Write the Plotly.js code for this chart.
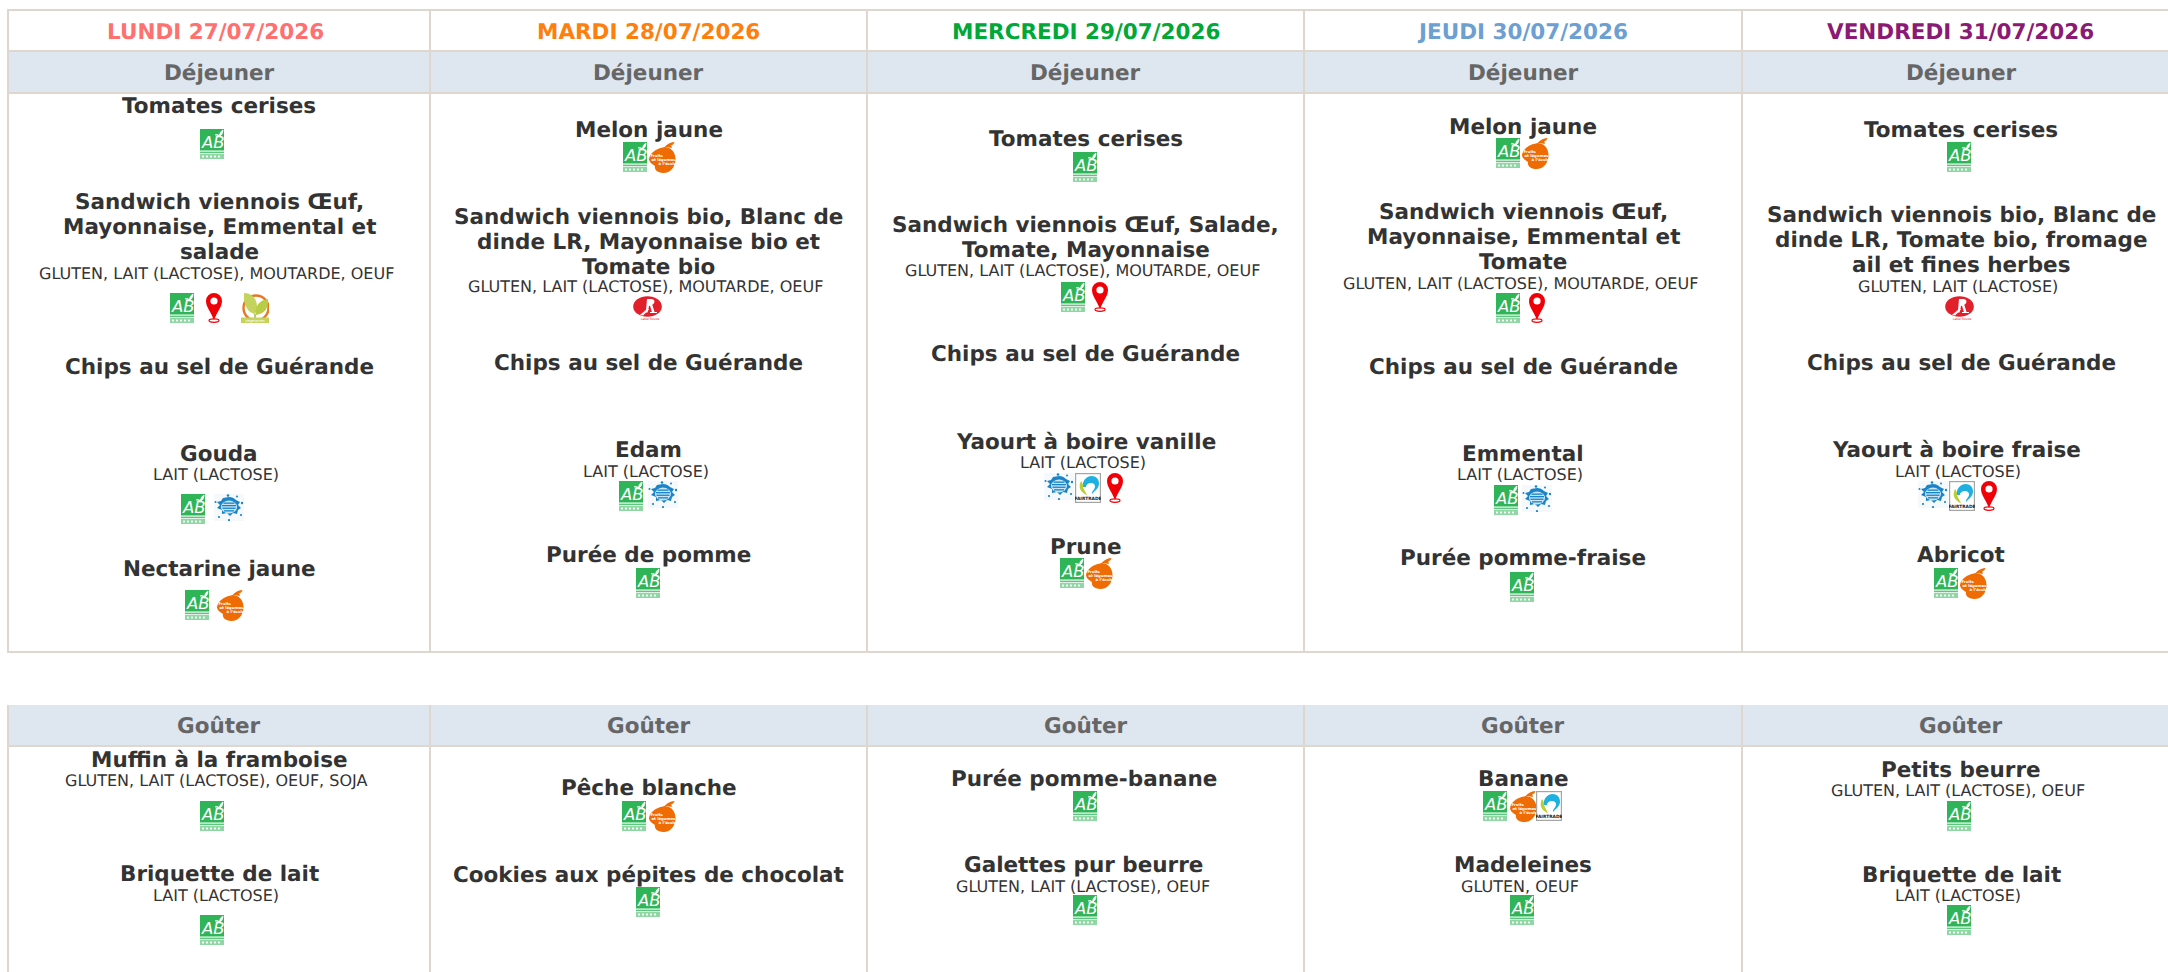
<!DOCTYPE html>
<html><head><meta charset="utf-8">
<script src="https://cdn.plot.ly/plotly-3.0.1.min.js"></script>
<style>html,body{margin:0;padding:0;background:#fff;overflow:hidden}#c{width:2168px;height:972px}
svg text{text-rendering:geometricPrecision}</style>
</head><body><div id="c"></div>
<script>
// ---- content ----
const days = ['LUNDI 27/07/2026','MARDI 28/07/2026','MERCREDI 29/07/2026','JEUDI 30/07/2026','VENDREDI 31/07/2026'];
const lunchTitle = 'Déjeuner';
const snackTitle = 'Goûter';
const chips = 'Chips au sel de Guérande';
const ALL_A = 'GLUTEN, LAIT (LACTOSE), MOUTARDE, OEUF';
const ALL_B = 'LAIT (LACTOSE)';

const lunchDishes = [
  [['Tomates cerises'],['Sandwich viennois Œuf,','Mayonnaise, Emmental et','salade'],[chips],['Gouda'],['Nectarine jaune']],
  [['Melon jaune'],['Sandwich viennois bio, Blanc de','dinde LR, Mayonnaise bio et','Tomate bio'],[chips],['Edam'],['Purée de pomme']],
  [['Tomates cerises'],['Sandwich viennois Œuf, Salade,','Tomate, Mayonnaise'],[chips],['Yaourt à boire vanille'],['Prune']],
  [['Melon jaune'],['Sandwich viennois Œuf,','Mayonnaise, Emmental et','Tomate'],[chips],['Emmental'],['Purée pomme-fraise']],
  [['Tomates cerises'],['Sandwich viennois bio, Blanc de','dinde LR, Tomate bio, fromage','ail et fines herbes'],[chips],['Yaourt à boire fraise'],['Abricot']]
];
const lunchAllergens = [
  ['',ALL_A,'',ALL_B,''],
  ['',ALL_A,'',ALL_B,''],
  ['',ALL_A,'',ALL_B,''],
  ['',ALL_A,'',ALL_B,''],
  ['','GLUTEN, LAIT (LACTOSE)','',ALL_B,'']
];
const lunchBadges = [
  [['ab'],['ab','pin','veg'],[],['ab','eau'],['ab','fruit']],
  [['ab','fruit'],['lr'],[],['ab','eau'],['ab']],
  [['ab'],['ab','pin'],[],['eau','ft','pin'],['ab','fruit']],
  [['ab','fruit'],['ab','pin'],[],['ab','eau'],['ab']],
  [['ab'],['lr'],[],['eau','ft','pin'],['ab','fruit']]
];
const snackDishes = [
  [['Muffin à la framboise'],['Briquette de lait']],
  [['Pêche blanche'],['Cookies aux pépites de chocolat']],
  [['Purée pomme-banane'],['Galettes pur beurre']],
  [['Banane'],['Madeleines']],
  [['Petits beurre'],['Briquette de lait']]
];
const snackAllergens = [
  ['GLUTEN, LAIT (LACTOSE), OEUF, SOJA',ALL_B],
  ['',''],
  ['','GLUTEN, LAIT (LACTOSE), OEUF'],
  ['','GLUTEN, OEUF'],
  ['GLUTEN, LAIT (LACTOSE), OEUF',ALL_B]
];
const snackBadges = [
  [['ab'],['ab']],
  [['ab','fruit'],['ab']],
  [['ab'],['ab']],
  [['ab','fruit','ft'],['ab']],
  [['ab'],['ab']]
];

// ---- placement (pixels of the 2168x972 frame) ----
const colEdges = [8,430,867,1304,1742,2180];
const textCx = [219,648.5,1085.5,1523,1961];
const dayCx = [215.5,648.5,1085.5,1522,1960];
const dishShift = {'Yaourt à boire fraise':-4.5,'Purée pomme-banane':-2,'Galettes pur beurre':-2};
const dayColors = ['#ff7070','#ff7f0e','#00a838','#6c9fd2','#8a1a74'];
const lunchNameY = [
  [106,202,367,454,569],[130,217,363,450,555],[139,225,354,442,547],[127,212,367,454,558],[130,215,363,450,555]];
const lunchAllY = [
  [0,273,0,474,0],[0,286,0,471,0],[0,270,0,462,0],[0,283,0,474,0],[0,286,0,471,0]];
const lunchIconTop = [
  [129,293,0,494,590],[142,296,0,481,568],[152,282,0,473,558],[138,293,0,485,572],[142,296,0,481,568]];
const lunchIconX = [
  [[200],[170,206,241],[],[181,214],[185,217]],
  [[623,649],[633],[],[619,648],[636]],
  [[1073],[1061,1092],[],[1044,1075,1107],[1060,1086]],
  [[1496,1522],[1496,1529],[],[1494,1522],[1510]],
  [[1947],[1945],[],[1918,1949,1981],[1934,1960]]
];
const snackNameY = [[760,874],[788,875],[779,865],[779,865],[770,875]];
const snackAllY = [[780,895],[0,0],[0,886],[0,886],[790,895]];
const snackIconTop = [[801,915],[801,887],[791,895],[791,895],[801,905]];
const snackIconX = [[[200],[200]],[[622,649],[636]],[[1073],[1073]],[[1483,1510,1536],[1510]],[[1947],[1947]]];

const FONT = 'DejaVu Sans, sans-serif';
const GRID = '#dfd6cd', BAND = '#dee6f0', INK = '#333333', MUTED = '#666666';
const ICON_SIZE = {ab:[24,30],pin:[16,30],veg:[28,30],eau:[30,27],fruit:[27,31],ft:[26,30],lr:[29,24]};
const NAME_SIZE = 21.5;

// ---- badge artwork ----
const SVG = {
 ab:`<svg xmlns="http://www.w3.org/2000/svg" viewBox="0 0 24 30"><rect width="24" height="30" fill="#fff"/><rect width="24" height="21.5" fill="#2fb457"/><rect y="22.6" width="24" height="1.6" fill="#5fc47f"/><rect y="25" width="24" height="5" fill="#8fd8a4"/><g fill="#fff"><rect x="2" y="26.6" width="2" height="1.8"/><rect x="6" y="26.6" width="2" height="1.8"/><rect x="10" y="26.6" width="2" height="1.8"/><rect x="14" y="26.6" width="2" height="1.8"/><rect x="18" y="26.6" width="2" height="1.8"/></g><text x="2" y="18.5" font-family="DejaVu Sans" font-size="16.5" font-style="italic" fill="#fff">AB</text><path d="M15 6c2-1 4 0 5 1.4M19.5 7.5c0-3 1-5 3.5-6.5-.2 3-1 5-3.5 6.5z" fill="#fff" stroke="#fff" stroke-width=".8"/></svg>`,
 pin:`<svg xmlns="http://www.w3.org/2000/svg" viewBox="0 0 16 30"><path d="M8 0a8 8 0 0 1 8 8c0 6-5 11-8 19C5 19 0 14 0 8a8 8 0 0 1 8-8z" fill="#f00007"/><circle cx="8" cy="8" r="3.6" fill="#fff"/><ellipse cx="8" cy="27.6" rx="5" ry="1.7" fill="none" stroke="#f00007" stroke-width="1.2"/></svg>`,
 veg:`<svg xmlns="http://www.w3.org/2000/svg" viewBox="0 0 28 30"><circle cx="15" cy="15" r="12.5" fill="#fff" stroke="#e87722" stroke-width="2.4"/><path d="M3 0c8 0 13 6 13 14 0 3-1 5-2 7C6 20 2 10 3 0z" fill="#c3d35c"/><path d="M27 6c1 8-3 15-12 16-2-8 3-15 12-16z" fill="#b9cc47"/><path d="M14 21v4" stroke="#8aa32a" stroke-width="1.2"/><rect y="24.5" x="0" width="28" height="5.5" fill="#c5d35a"/><text x="14" y="28.8" text-anchor="middle" font-size="3.6" fill="#fff" font-family="DejaVu Sans">Végétarien</text></svg>`,
 eau:`<svg xmlns="http://www.w3.org/2000/svg" viewBox="0 0 30 27"><rect width="30" height="27" fill="#f5f9fc"/><g fill="#1a84c6"><path d="M15 3c3 0 5 1 7 3l4 2-2 3 3 3-3 2-1 4-4-1-3 3-3-3-5 1v-4l-5-2 3-3-3-3 4-1 2-3z"/><circle cx="14" cy="1.5" r="1.3"/><circle cx="23" cy="2.5" r="1"/><circle cx="28" cy="9" r="1.2"/><circle cx="1.5" cy="8" r="1"/><circle cx="27" cy="21" r="1.1"/><circle cx="5" cy="23" r="1.1"/><circle cx="15" cy="26" r="1.1"/></g><ellipse cx="15" cy="13" rx="8" ry="6.5" fill="#c9e4f5"/><g fill="#1a84c6"><rect x="9.5" y="8.5" width="11" height="1.3"/><rect x="8" y="11" width="14" height="1.3"/><rect x="8.5" y="13.6" width="13" height="1.3"/><rect x="10" y="16.2" width="10" height="1.3"/></g></svg>`,
 fruit:`<svg xmlns="http://www.w3.org/2000/svg" viewBox="0 0 27 31"><path d="M14 5.5c7-1 12.5 4 12.5 11.5 0 8-5 14-12 14C8 31 5 27 6 24 3 22 0 20 0 17 1 11 7 6.5 14 5.5z" fill="#ef6c05"/><path d="M14 7c2-3 6-7 11.5-7-.5 2-1.5 3-3.5 3.5 1 1 1 2 .5 2.5-3-1-6-1-8.500 1z" fill="#ef6c05"/><g font-family="DejaVu Sans" font-weight="bold" font-size="3.8" fill="#fff"><text x="1.5" y="15">Fruits</text><text x="2.5" y="19">et légumes</text><text x="9.5" y="23">à l’école</text></g></svg>`,
 ft:`<svg xmlns="http://www.w3.org/2000/svg" viewBox="0 0 26 30"><rect x=".6" y=".6" width="24.8" height="28.8" fill="#fff" stroke="#a5a5a5" stroke-width="1.2"/><path d="M8 14C7 7 12 3 16.5 3c4.5 0 7.5 3 7.5 7.500 0 5-4 7-7 10.500-.5-3 3-4.500 3-7.500 0-2-1.500-3.500-3.500-3.500-3 0-5.500 1.500-5.500 4z" fill="#1eb0e0"/><path d="M6 8c-3 6-1 11 6 14.500C11 19 8 16 8 13c0-2-1-4-2-5z" fill="#bccf2e"/><text x="13" y="27.4" text-anchor="middle" font-size="4.4" font-weight="bold" fill="#222" font-family="DejaVu Sans">FAIRTRADE</text></svg>`,
 lr:`<svg xmlns="http://www.w3.org/2000/svg" viewBox="0 0 29 24"><ellipse cx="14.5" cy="10.5" rx="14.3" ry="10.3" fill="#e2202c"/><path d="M14 3h4.500c3.500 0 4 4 .8 5.800L21.500 16l-2.300.8-2.200-7-1 .3-1.500 6.500H12.800z" fill="#fff"/><path d="M7 19 15 12l.8 1.800L10 19.500z" fill="#fff"/><path d="M17 16.500h7" stroke="#fff" stroke-width="1"/><text x="17" y="23.5" text-anchor="middle" font-size="3" fill="#e2202c" font-family="DejaVu Sans">Label Rouge</text></svg>`
};
const uri = k => 'data:image/svg+xml;charset=utf-8,' + encodeURIComponent(SVG[k]);

// ---- assembly ----
const shapes = [], annotations = [], images = [];
const rect = (x0,y0,x1,y1,fill) => shapes.push({type:'rect',xref:'x',yref:'y',x0,y0,x1,y1,fillcolor:fill,line:{width:0},layer:'below'});
const line = (x0,y0,x1,y1) => shapes.push({type:'line',xref:'x',yref:'y',x0,y0,x1,y1,line:{color:GRID,width:2},layer:'below'});
const label = (text,x,y,size,color,bold) => annotations.push({
  text: bold ? '<b>'+text+'</b>' : text, xref:'x',yref:'y',x,y,xanchor:'center',yanchor:'middle',showarrow:false,
  font:{family:FONT,size,color}, borderpad:0, borderwidth:0});
const badge = (k,x,y) => images.push({source:uri(k),xref:'x',yref:'y',x,y,sizex:ICON_SIZE[k][0],sizey:ICON_SIZE[k][1],
  xanchor:'left',yanchor:'top',sizing:'stretch',layer:'above'});

rect(8,52,2180,93,BAND);
rect(8,705,2180,746,BAND);
[10,51,93,652,746].forEach(y => line(7,y,2180,y));
colEdges.slice(0,5).forEach(x => { line(x,9,x,653); line(x,705,x,972); });

const block = (names,alls,bad,nameY,allY,top,iconX,c) => names.forEach((lines,i) => {
  lines.forEach((t,j) => label(t,textCx[c]+(dishShift[t]||0),nameY[i]+j*25,NAME_SIZE,INK,true));
  if (alls[i]) label(alls[i],textCx[c]-3,allY[i],16,INK,false);
  bad[i].forEach((k,j) => badge(k,iconX[i][j],top[i]));
});
days.forEach((d,c) => {
  label(d,dayCx[c],32,NAME_SIZE,dayColors[c],true);
  label(lunchTitle,textCx[c],73,NAME_SIZE,MUTED,true);
  label(snackTitle,textCx[c],726,NAME_SIZE,MUTED,true);
  block(lunchDishes[c],lunchAllergens[c],lunchBadges[c],lunchNameY[c],lunchAllY[c],lunchIconTop[c],lunchIconX[c],c);
  block(snackDishes[c],snackAllergens[c],snackBadges[c],snackNameY[c],snackAllY[c],snackIconTop[c],snackIconX[c],c);
});

const ax = r => ({range:r,visible:false,fixedrange:true,showgrid:false,zeroline:false});
Plotly.newPlot('c',[{x:[],y:[],type:'scatter',mode:'markers',showlegend:false,hoverinfo:'skip'}],{
  width:2168,height:972,margin:{l:0,r:0,t:0,b:0,pad:0},
  paper_bgcolor:'#fff',plot_bgcolor:'#fff',showlegend:false,
  xaxis:ax([0,2168]),yaxis:ax([972,0]),shapes,annotations,images
},{displayModeBar:false,staticPlot:true});
</script></body></html>
